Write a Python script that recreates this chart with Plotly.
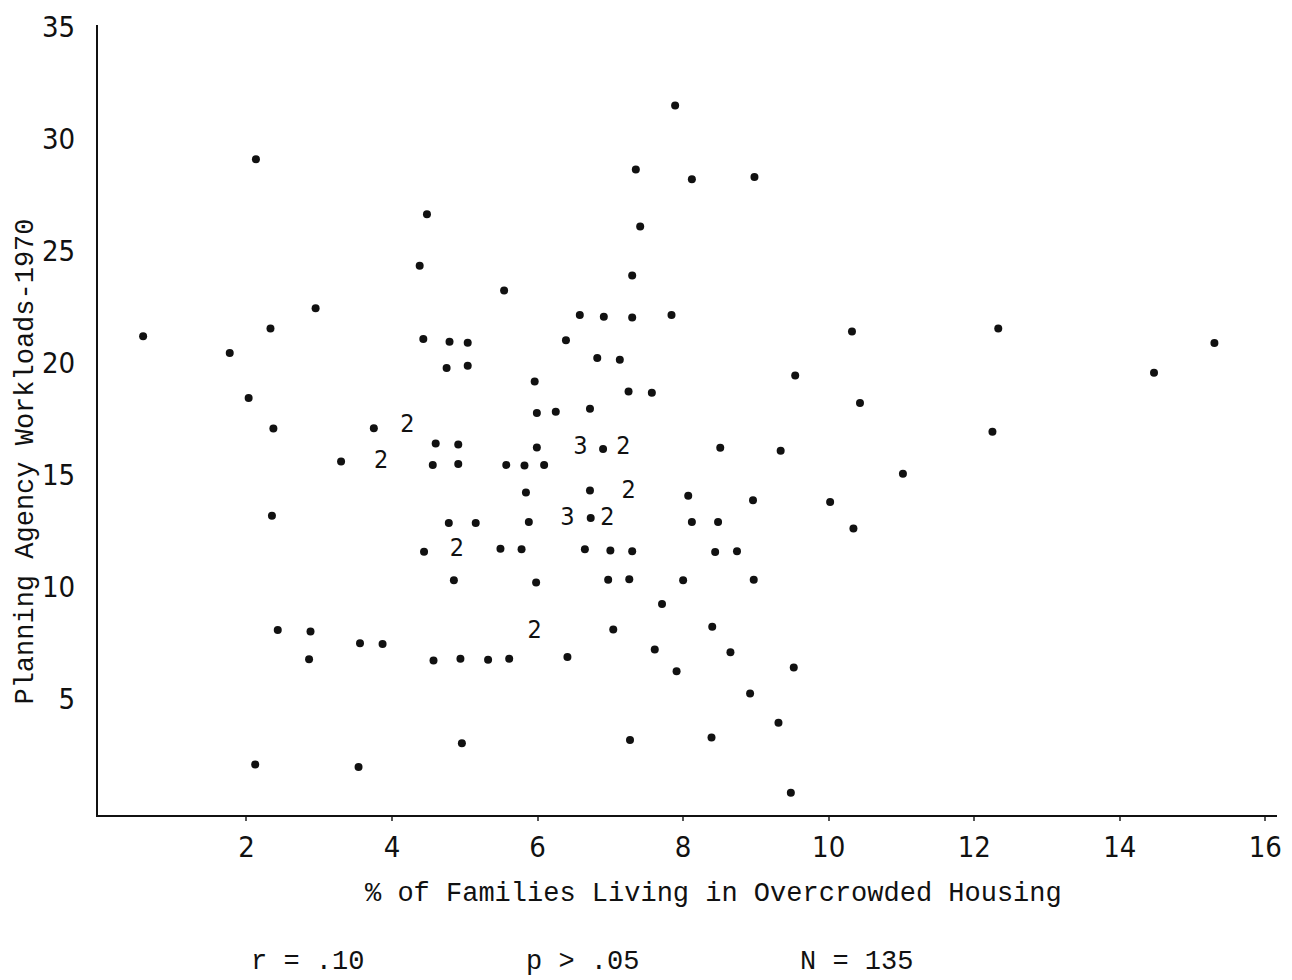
import plotly.graph_objects as go

# Single cases (one dot each)
single_x = [2.13, 4.48, 4.38, 7.89, 7.35, 8.12, 8.98, 7.41, 7.30, 5.54,
            0.58, 2.95, 2.33, 1.77, 4.43, 4.79, 5.04, 4.75, 5.04, 2.03, 2.37, 3.75, 4.60, 4.91,
            3.30, 4.56, 4.91, 2.35, 4.78, 5.15, 4.44,
            6.58, 6.91, 7.30, 7.84, 10.32, 6.39, 6.82, 7.13, 5.96, 9.54, 7.25, 7.57, 10.43,
            5.99, 6.25, 6.72, 5.99, 6.90, 8.51, 9.34, 5.57, 5.82, 6.09, 5.84, 6.72, 8.07, 8.96,
            10.02, 5.88, 6.73, 8.12, 8.48, 10.34, 5.49, 5.78, 6.65, 7.00, 7.30, 8.44, 8.74,
            12.33, 15.30, 14.47, 12.25, 11.02,
            4.85, 2.43, 2.88, 3.56, 3.87, 2.86, 4.57, 4.94, 4.96, 2.12, 3.54,
            5.32, 5.61, 6.41, 5.98, 6.97, 7.26, 8.00, 8.97, 7.71, 7.04, 8.40, 7.61, 8.65,
            7.91, 9.52, 8.92, 9.31, 7.27, 8.39, 9.48]
single_y = [29.08, 26.62, 24.32, 31.48, 28.62, 28.18, 28.28, 26.07, 23.89, 23.22,
            21.17, 22.42, 21.52, 20.43, 21.05, 20.93, 20.88, 19.76, 19.86, 18.42, 17.05, 17.07, 16.39, 16.34,
            15.58, 15.43, 15.47, 13.16, 12.84, 12.84, 11.55,
            22.12, 22.05, 22.01, 22.12, 21.39, 21.00, 20.20, 20.12, 19.15, 19.42, 18.71, 18.65, 18.19,
            17.75, 17.80, 17.94, 16.21, 16.14, 16.20, 16.06, 15.43, 15.40, 15.43, 14.20, 14.29, 14.05, 13.85,
            13.77, 12.88, 13.06, 12.88, 12.88, 12.59, 11.69, 11.66, 11.66, 11.61, 11.58, 11.54, 11.58,
            21.52, 20.87, 19.54, 16.91, 15.04,
            10.28, 8.06, 7.99, 7.47, 7.43, 6.75, 6.70, 6.78, 3.00, 2.05, 1.94,
            6.73, 6.78, 6.85, 10.18, 10.30, 10.32, 10.28, 10.30, 9.22, 8.08, 8.21, 7.19, 7.07,
            6.22, 6.38, 5.22, 3.92, 3.15, 3.26, 0.79]

# Multiple cases at one location (printed as a count)
multi_x = [4.21, 3.85, 4.89, 6.59, 7.18, 7.25, 6.41, 6.96, 5.96]
multi_y = [17.20, 15.58, 11.63, 16.21, 16.21, 14.25, 13.03, 13.03, 7.96]
multi_n = [2, 2, 2, 3, 2, 2, 3, 2, 2]

x_ticks = [2, 4, 6, 8, 10, 12, 14, 16]
y_ticks = [5, 10, 15, 20, 25, 30, 35]

x_title = "% of Families Living in Overcrowded Housing"
y_title = "Planning Agency Workloads-1970"
stats = ["r = .10", "p > .05", "N = 135"]

MONO = "Liberation Mono, Courier New, monospace"
TICKF = "DejaVu Sans Condensed, Liberation Mono, monospace"

fig = go.Figure()
fig.add_trace(go.Scatter(
    x=single_x, y=single_y, mode="markers",
    marker=dict(size=8, color="#111111"), showlegend=False, hoverinfo="skip"))
fig.add_trace(go.Scatter(
    x=multi_x, y=multi_y, mode="text", text=[str(n) for n in multi_n],
    textfont=dict(family="DejaVu Sans Condensed, DejaVu Sans, sans-serif", size=25, color="#111111"),
    showlegend=False, hoverinfo="skip"))

fig.update_layout(
    width=1292, height=980,
    margin=dict(l=98, r=10, t=20, b=165),
    paper_bgcolor="white", plot_bgcolor="white",
    xaxis=dict(range=[-0.04, 16.16], tickvals=x_ticks, ticktext=[str(v) for v in x_ticks],
               showgrid=False, zeroline=False, showline=True, linecolor="#111111", linewidth=2,
               ticks="outside", ticklen=4, tickwidth=1.5, tickcolor="#555555",
               tickfont=dict(family=TICKF, size=29, color="#111111"), ticklabelstandoff=1),
    yaxis=dict(range=[-0.2, 35.07], tickvals=y_ticks, ticktext=[str(v) for v in y_ticks],
               showgrid=False, zeroline=False, showline=True, linecolor="#111111", linewidth=2,
               ticks="", tickfont=dict(family=TICKF, size=29, color="#111111"),
               ticklabelstandoff=15),
)

fig.add_annotation(text=x_title, xref="paper", yref="paper", x=0.522, y=-0.1006,
                   xanchor="center", yanchor="middle", showarrow=False,
                   font=dict(family=MONO, size=27, color="#111111"))
fig.add_annotation(text=y_title, xref="paper", yref="paper", x=-0.0608, y=0.4478,
                   xanchor="center", yanchor="middle", showarrow=False, textangle=-90,
                   font=dict(family=MONO, size=27, color="#111111"))
for txt, xp in zip(stats, [0.1774, 0.4113, 0.6436]):
    fig.add_annotation(text=txt, xref="paper", yref="paper", x=xp, y=-0.186,
                       xanchor="center", yanchor="middle", showarrow=False,
                       font=dict(family=MONO, size=27, color="#111111"))

fig.write_html("out.html")
